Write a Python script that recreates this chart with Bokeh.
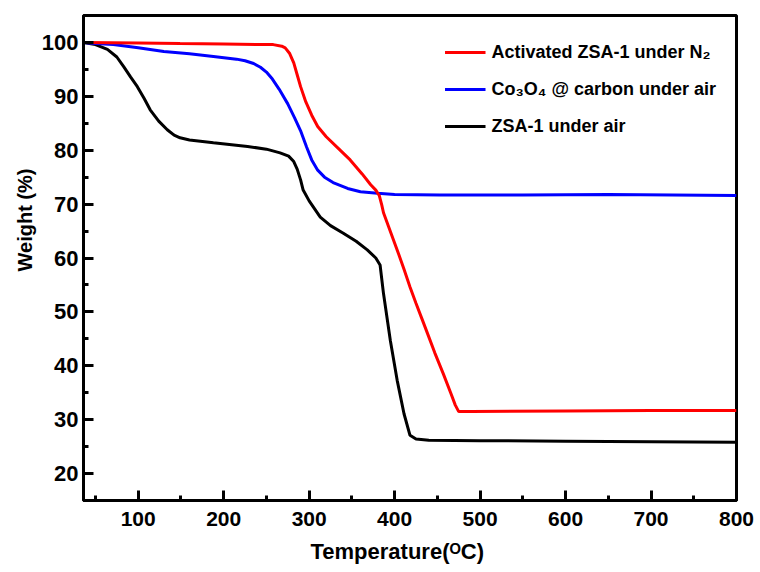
import math
from bokeh.plotting import figure
from bokeh.models import Range1d, SingleIntervalTicker, Legend, LegendItem, Title
from bokeh.embed import file_html
from bokeh.resources import INLINE

# ---- data ----
temp_activated = [36, 100, 149, 200, 258, 268, 272, 277, 282, 286, 290, 296, 303, 310, 320,
                  335, 348, 362, 372, 378, 382, 385, 387, 393, 399, 405, 411, 418, 425, 432,
                  438, 447, 457, 466, 471, 475, 490, 600, 700, 800]
weight_activated = [100, 99.9, 99.8, 99.7, 99.6, 99.3, 99.0, 98.0, 96.2, 94.0, 91.8, 89.0, 86.5,
                    84.4, 82.5, 80.2, 78.2, 75.6, 73.6, 72.6, 71.6, 69.8, 68.4, 65.8, 63.2, 60.6,
                    57.9, 54.6, 51.6, 48.7, 46.2, 42.4, 38.5, 34.8, 32.7, 31.5, 31.5, 31.6, 31.7,
                    31.7]

temp_co3o4 = [36, 50, 71, 100, 130, 160, 188, 215, 225, 235, 243, 250, 257, 265, 275, 283, 290,
              297, 303, 310, 318, 328, 345, 360, 380, 400, 453, 550, 650, 800]
weight_co3o4 = [100, 99.8, 99.6, 99.0, 98.3, 97.9, 97.4, 96.9, 96.6, 96.1, 95.4, 94.5, 93.2,
                91.3, 88.6, 86.0, 83.6, 80.6, 78.2, 76.3, 75.0, 74.0, 72.9, 72.3, 72.0, 71.8,
                71.7, 71.7, 71.8, 71.6]

temp_zsa = [36, 50, 64, 75, 83, 91, 99, 107, 114, 124, 134, 142, 149, 160, 188, 228, 250, 266,
            276, 282, 286, 290, 293, 300, 313, 325, 340, 355, 368, 378, 383, 387, 395, 403, 411,
            418, 425, 440, 500, 600, 700, 800]
weight_zsa = [100, 99.6, 98.7, 97.3, 95.5, 93.6, 91.8, 89.6, 87.5, 85.4, 83.8, 82.8, 82.3, 81.9,
              81.4, 80.7, 80.2, 79.5, 78.9, 77.9, 76.5, 74.5, 72.6, 70.6, 67.6, 66.0, 64.6, 63.1,
              61.5, 60.0, 58.7, 53.4, 44.7, 37.3, 31.1, 27.1, 26.4, 26.2, 26.1, 26.0, 25.9, 25.8]

series_labels = ["Activated ZSA-1 under N\u2082", "Co\u2083O\u2084 @ carbon under air", "ZSA-1 under air"]
series_colors = ["#ff0000", "#0000ff", "#000000"]

x_label = "Temperature(\u1d3cC)"
y_label = "Weight (%)"

FONT = "Liberation Sans, Arial, sans-serif"

p = figure(width=760, height=572, output_backend="svg", toolbar_location=None,
           x_range=Range1d(36, 800), y_range=Range1d(15, 105),
           min_border_left=83, min_border_right=24, min_border_top=15, min_border_bottom=72)
p.background_fill_color = "white"
p.border_fill_color = "white"
p.grid.visible = False
p.outline_line_color = "black"
p.outline_line_width = 3

p.xaxis.ticker = SingleIntervalTicker(interval=100, num_minor_ticks=2)
p.yaxis.ticker = SingleIntervalTicker(interval=10, num_minor_ticks=2)
for ax in (p.xaxis, p.yaxis):
    ax.axis_line_width = 3
    ax.axis_line_color = "black"
    ax.major_tick_in = 10
    ax.major_tick_out = 0
    ax.minor_tick_in = 5
    ax.minor_tick_out = 0
    ax.major_tick_line_width = 3
    ax.minor_tick_line_width = 3
    ax.major_tick_line_color = "black"
    ax.minor_tick_line_color = "black"
    ax.major_label_text_font = FONT
    ax.major_label_text_font_style = "bold"
    ax.major_label_text_color = "black"
p.xaxis.major_label_text_font_size = "21px"
p.yaxis.major_label_text_font_size = "22px"
p.xaxis.major_label_standoff = 11
p.yaxis.major_label_standoff = 5

r_zsa = p.line(temp_zsa, weight_zsa, line_color=series_colors[2], line_width=3)
r_co = p.line(temp_co3o4, weight_co3o4, line_color=series_colors[1], line_width=3)
r_act = p.line(temp_activated, weight_activated, line_color=series_colors[0], line_width=3)

legend = Legend(items=[LegendItem(label=series_labels[0], renderers=[r_act]),
                       LegendItem(label=series_labels[1], renderers=[r_co]),
                       LegendItem(label=series_labels[2], renderers=[r_zsa])],
                location="top_right")
legend.margin = 14
legend.padding = 6
legend.glyph_width = 41
legend.glyph_height = 34
legend.label_height = 34
legend.spacing = 3
legend.label_standoff = 6
legend.label_text_font = FONT
legend.label_text_font_style = "bold"
legend.label_text_font_size = "18px"
legend.label_text_color = "black"
legend.background_fill_alpha = 0
legend.border_line_alpha = 0
p.add_layout(legend, "center")

# y title (left panel, shifted up from the bottom of the frame)
yt = Title(text=y_label, align="left", offset=229, standoff=6, text_font=FONT,
           text_font_style="bold", text_font_size="20px", text_color="black")
p.add_layout(yt, "left")

# x title (below panel)
xt = Title(text=x_label, align="left", offset=227, standoff=16, text_font=FONT,
           text_font_style="bold", text_font_size="22px", text_color="black")
p.add_layout(xt, "below")

open("out.html", "w").write(file_html(p, INLINE))
